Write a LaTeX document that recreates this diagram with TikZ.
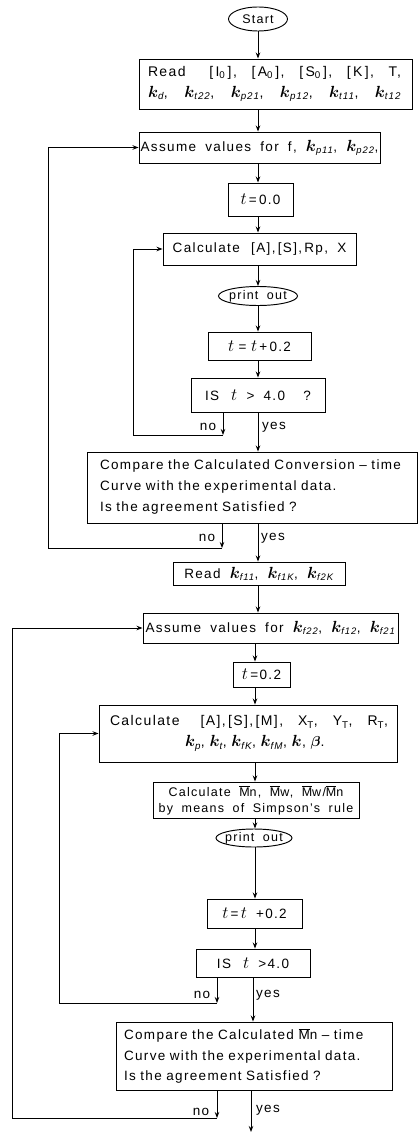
\documentclass[tikz,border=0pt]{standalone}
\usepackage{graphicx}
\usepackage{bm}
\usepackage{fontspec}
\setmainfont{Liberation Sans}[LetterSpace=10,WordSpace=1.8]
\usetikzlibrary{arrows.meta,shapes.geometric}
\newcommand{\Mbar}{$\overline{\mbox{M}}$}
\newcommand{\kk}[1]{\scalebox{1.12}{$\bm{k}$}\textsubscript{\itshape #1}}
\newcommand{\tv}{\scalebox{1.2}{$t$}}
\begin{document}
\begin{tikzpicture}[x=1pt,y={(0pt,-1pt)},
  lw/.style={line width=0.95pt},
  box/.style={draw,lw,inner sep=0pt,font=\fontsize{13.5}{21}\selectfont},
  oval/.style={draw,lw,ellipse,inner sep=0pt,font=\fontsize{12.5}{14}\selectfont},
  arr/.style={lw,-{Stealth[length=6pt,width=4.5pt]}},
  lab/.style={font=\fontsize{13.5}{14}\selectfont,inner sep=0pt}]
\useasboundingbox (0,0) rectangle (418,1134);
% axes
\coordinate (ax1) at (258,0);
\coordinate (ax2) at (255,0);
\coordinate (ax3) at (253,0);
% nodes
\node[oval,minimum width=59pt,minimum height=24pt] (start) at (258,19) {\makebox[0pt]{Start}};
\node[box,minimum height=50pt,text width=255pt,inner xsep=9pt,align=left,font=\fontsize{14}{21}\selectfont] (read1) at (275.5,84)
  {\makebox[253pt][l]{Read\hspace{9pt}\hfill[\,I\textsubscript{0}\,],\hfill[\,A\textsubscript{0}\,],\hfill[\,S\textsubscript{0}\,],\hfill[\,K\,],\hfill T,}\\
   \makebox[253pt][l]{\kk{d},\hfill\kk{t22},\hfill\kk{p21},\hfill\kk{p12},\hfill\kk{t11},\hfill\kk{t12}}};
\node[box,minimum width=241pt,minimum height=31pt] (assume1) at (259.5,147.5)
  {Assume values for f, \kk{p11}, \kk{p22},};
\node[box,minimum width=65pt,minimum height=33pt] (t0) at (260.5,199.5) {\tv\,=\,0.0};
\node[box,minimum width=193pt,minimum height=32pt] (calc1) at (259.5,249) {Calculate \,[A],\,[S],\,Rp, X};
\node[oval,minimum width=79pt,minimum height=19pt] (print1) at (258,296) {\makebox[0pt]{print out}};
\node[box,minimum width=103pt,minimum height=28pt] (tinc1) at (259.5,346) {\tv\,\,=\,\,\tv\,+\,0.2};
\node[box,minimum width=134pt,minimum height=34pt] (is1) at (258,395) {IS\hspace{12pt}\tv\ > 4.0\ \ ?};
\node[box,minimum height=71pt,text width=304pt,inner xsep=13pt,align=left] (comp1) at (252,487.5)
  {Compare the Calculated Conversion \textendash\ time\\
   Curve with the experimental data.\\
   Is the agreement Satisfied ?};
\node[box,minimum width=172pt,minimum height=23pt] (read2) at (259,573.5)
  {Read \kk{f11}, \kk{f1K}, \kk{f2K}};
\node[box,minimum width=255pt,minimum height=30pt] (assume2) at (270.5,628)
  {Assume values for \kk{f22}, \kk{f12}, \kk{f21}};
\node[box,minimum width=57pt,minimum height=25pt] (t02) at (261.5,674.5) {\tv\,=0.2};
\node[box,minimum height=57pt,text width=280pt,inner xsep=9pt,align=left,font=\fontsize{14}{21}\selectfont] (calc2) at (248,733.5)
  {\hbox to 280pt{\kern2pt Calculate\hspace{6pt}\hfill[A],\,[S],\,[M],\hfill X\textsubscript{T},\hfill Y\textsubscript{T},\hfill R\textsubscript{T},}\\
   \hbox to 280pt{\kern77pt\kk{p}, \kk{t}, \kk{fK}, \kk{fM}, \kk{}, $\bm{\beta}$.\hfil}};
\node[box,minimum width=206pt,minimum height=36pt,align=center,font=\fontsize{12.5}{16}\selectfont] (calcmn) at (256,800)
  {Calculate \Mbar n, \Mbar w, \Mbar w/\Mbar n\\
   by means of Simpson's rule};
\node[oval,minimum width=76pt,minimum height=18pt] (print2) at (254,838) {\makebox[0pt]{print out}};
\node[box,minimum width=95pt,minimum height=29pt] (tinc2) at (254.5,913.5) {\tv\,=\,\tv\ +0.2};
\node[box,minimum width=114pt,minimum height=28pt] (is2) at (253,963) {IS\hspace{12pt}\tv\ >4.0};
\node[box,minimum height=68pt,text width=260pt,inner xsep=8pt,align=left,font=\fontsize{13.5}{20.5}\selectfont] (comp2) at (254,1056)
  {Compare the Calculated \Mbar n \textendash\ time\\
   Curve with the experimental data.\\
   Is the agreement Satisfied ?};
% main flow
\draw[arr] (start.south) -- (ax1 |- read1.north);
\draw[arr] (ax1 |- read1.south) -- (ax1 |- assume1.north);
\draw[arr] (ax1 |- assume1.south) -- (ax1 |- t0.north);
\draw[arr] (ax1 |- t0.south) -- (ax1 |- calc1.north);
\draw[arr] (ax1 |- calc1.south) -- (ax1 |- print1.north);
\draw[arr] (ax1 |- print1.south) -- (ax1 |- tinc1.north);
\draw[arr] (ax1 |- tinc1.south) -- (ax1 |- is1.north);
\draw[arr] (ax1 |- is1.south) -- (ax1 |- comp1.north);
\draw[arr] (ax1 |- comp1.south) -- (ax1 |- read2.north);
\draw[arr] (ax1 |- read2.south) -- (ax1 |- assume2.north);
\draw[arr] (ax2 |- assume2.south) -- (ax2 |- t02.north);
\draw[arr] (ax2 |- t02.south) -- (ax2 |- calc2.north);
\draw[arr] (ax2 |- calc2.south) -- (ax2 |- calcmn.north);
\draw[arr] (ax2 |- calcmn.south) -- (ax2 |- print2.north);
\draw[arr] (ax2 |- print2.south) -- (ax2 |- tinc2.north);
\draw[arr] (ax2 |- tinc2.south) -- (ax2 |- is2.north);
\draw[arr] (ax3 |- is2.south) -- (ax3 |- comp2.north);
\coordinate (endpt) at (251,1132);
\draw[arr] (endpt |- comp2.south) -- (endpt);
% loop 1
\coordinate (n1a) at (223,435);
\coordinate (n1b) at (133,435);
\draw[arr] (n1a |- is1.south) -- (n1a);
\draw[arr] (n1a) -- (n1b) |- (calc1.west);
% loop 2
\coordinate (n2a) at (222,548);
\coordinate (n2b) at (48,548);
\draw[arr] (n2a |- comp1.south) -- (n2a);
\draw[arr] (n2a) -- (n2b) |- (assume1.west);
% loop 3
\coordinate (n3a) at (217,1003);
\coordinate (n3b) at (59,1003);
\draw[arr] (n3a |- is2.south) -- (n3a);
\draw[arr] (n3a) -- (n3b) |- (calc2.west);
% loop 4
\coordinate (n4a) at (217,1118);
\coordinate (n4b) at (12,1118);
\draw[arr] (n4a |- comp2.south) -- (n4a);
\draw[arr] (n4a) -- (n4b) |- (assume2.west);
% labels
\node[lab] (no1) at (208,427) {no};
\node[lab] (yes1) at (274,427) {yes};
\node[lab] (no2) at (207,538) {no};
\node[lab] (yes2) at (273,538) {yes};
\node[lab] (no3) at (202,995) {no};
\node[lab] (yes3) at (268,995) {yes};
\node[lab] (no4) at (201,1112) {no};
\node[lab] (yes4) at (268,1110) {yes};
\end{tikzpicture}
\end{document}
